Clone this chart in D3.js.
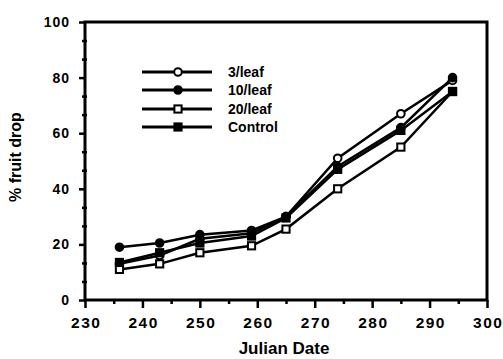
<!DOCTYPE html>
<html><head><meta charset="utf-8">
<script src="https://cdn.jsdelivr.net/npm/d3@7"></script>
<style>body{margin:0;background:#fff}svg{display:block}text{font-family:"Liberation Sans",Arial,sans-serif;font-weight:bold;fill:#000}</style>
</head><body><svg id="c" width="503" height="359"></svg>
<script>
const dates = [236, 243, 250, 259, 265, 274, 285, 294];
const leaf3 = [13, 16, 22, 24, 30, 51, 67, 79];
const leaf10 = [19, 20.5, 23.5, 25, 30, 48, 62, 80];
const leaf20 = [11, 13, 17, 19.5, 25.5, 40, 55, 75];
const control = [13.5, 17, 20.5, 23, 29.5, 47, 61, 75];
const seriesNames = ["3/leaf", "10/leaf", "20/leaf", "Control"];
const markers = ["openCircle", "filledCircle", "openSquare", "filledSquare"];
const xTicks = [230, 240, 250, 260, 270, 280, 290, 300];
const yTicks = [0, 20, 40, 60, 80, 100];

const svg = d3.select("#c");
const x = d3.scaleLinear().domain([230, 300]).range([85, 487]);
const y = d3.scaleLinear().domain([0, 100]).range([300, 22]);

const series = [leaf3, leaf10, leaf20, control].map((v, i) => ({name: seriesNames[i], marker: markers[i], pts: dates.map((d, j) => [d, v[j]])}));

function drawMarker(g, type, cx, cy) {
  if (type.endsWith("Circle")) {
    g.append("circle").attr("cx", cx).attr("cy", cy).attr("r", 3.8)
      .attr("fill", type === "openCircle" ? "#fff" : "#000").attr("stroke", "#000").attr("stroke-width", 2);
  } else {
    g.append("rect").attr("x", cx - 3.6).attr("y", cy - 3.6).attr("width", 7.2).attr("height", 7.2)
      .attr("fill", type === "openSquare" ? "#fff" : "#000").attr("stroke", "#000").attr("stroke-width", 2);
  }
}

// frame
const [x0, x1] = x.range(), [y0, y1] = y.range();
svg.append("rect").attr("x", x0).attr("y", y1).attr("width", x1 - x0).attr("height", y0 - y1)
  .attr("fill", "none").attr("stroke", "#000").attr("stroke-width", 3);

// x axis ticks
const xa = svg.append("g").attr("transform", `translate(0,${y0})`)
  .call(d3.axisBottom(x).tickValues(xTicks).tickSize(8).tickPadding(7).tickFormat(d3.format("d")));
xa.select(".domain").remove();
xa.selectAll("line").attr("stroke-width", 2.5);
xa.selectAll("text").attr("font-size", 15.5).attr("letter-spacing", 1.5).attr("dx", 0.75).attr("dy", "0.85em");
const xm = svg.append("g").attr("transform", `translate(0,${y0})`)
  .call(d3.axisBottom(x).tickValues(d3.range(235, 300, 10)).tickSize(4).tickFormat(""));
xm.select(".domain").remove();
xm.selectAll("line").attr("stroke-width", 2.5);

// y axis ticks
const ya = svg.append("g").attr("transform", `translate(${x0},0)`)
  .call(d3.axisLeft(y).tickValues(yTicks).tickSize(6).tickPadding(9).tickFormat(d3.format("d")));
ya.select(".domain").remove();
ya.selectAll("line").attr("stroke-width", 2.5);
ya.selectAll("text").attr("font-size", 14).attr("letter-spacing", 1);
const ym = svg.append("g").attr("transform", `translate(${x0 + 2},0)`)
  .call(d3.axisLeft(y).tickValues(d3.range(0, 100, 20).flatMap(v => [v + 20 / 3, v + 40 / 3])).tickSize(5).tickFormat(""));
ym.select(".domain").remove();
ym.selectAll("line").attr("stroke-width", 2.5);

// axis titles
svg.append("text").attr("x", 284).attr("y", 354).attr("text-anchor", "middle").attr("font-size", 17).text("Julian Date");
svg.append("text").attr("transform", "translate(21,157) rotate(-90)").attr("text-anchor", "middle").attr("font-size", 16).text("% fruit drop");

// lines and markers
const line = d3.line().x(d => x(d[0])).y(d => y(d[1]));
series.forEach(s => {
  svg.append("path").attr("d", line(s.pts)).attr("fill", "none").attr("stroke", "#000").attr("stroke-width", 2.5);
});
series.forEach(s => {
  const g = svg.append("g");
  s.pts.forEach(p => drawMarker(g, s.marker, x(p[0]), y(p[1])));
});

// legend
const legY = [72, 90, 109, 127];
series.forEach((s, i) => {
  const g = svg.append("g");
  g.append("line").attr("x1", 142).attr("x2", 212).attr("y1", legY[i]).attr("y2", legY[i]).attr("stroke", "#000").attr("stroke-width", 3);
  drawMarker(g, s.marker, 178, legY[i]);
  g.append("text").attr("x", 228).attr("y", legY[i] + 5).attr("font-size", 14).text(s.name);
});
</script></body></html>
